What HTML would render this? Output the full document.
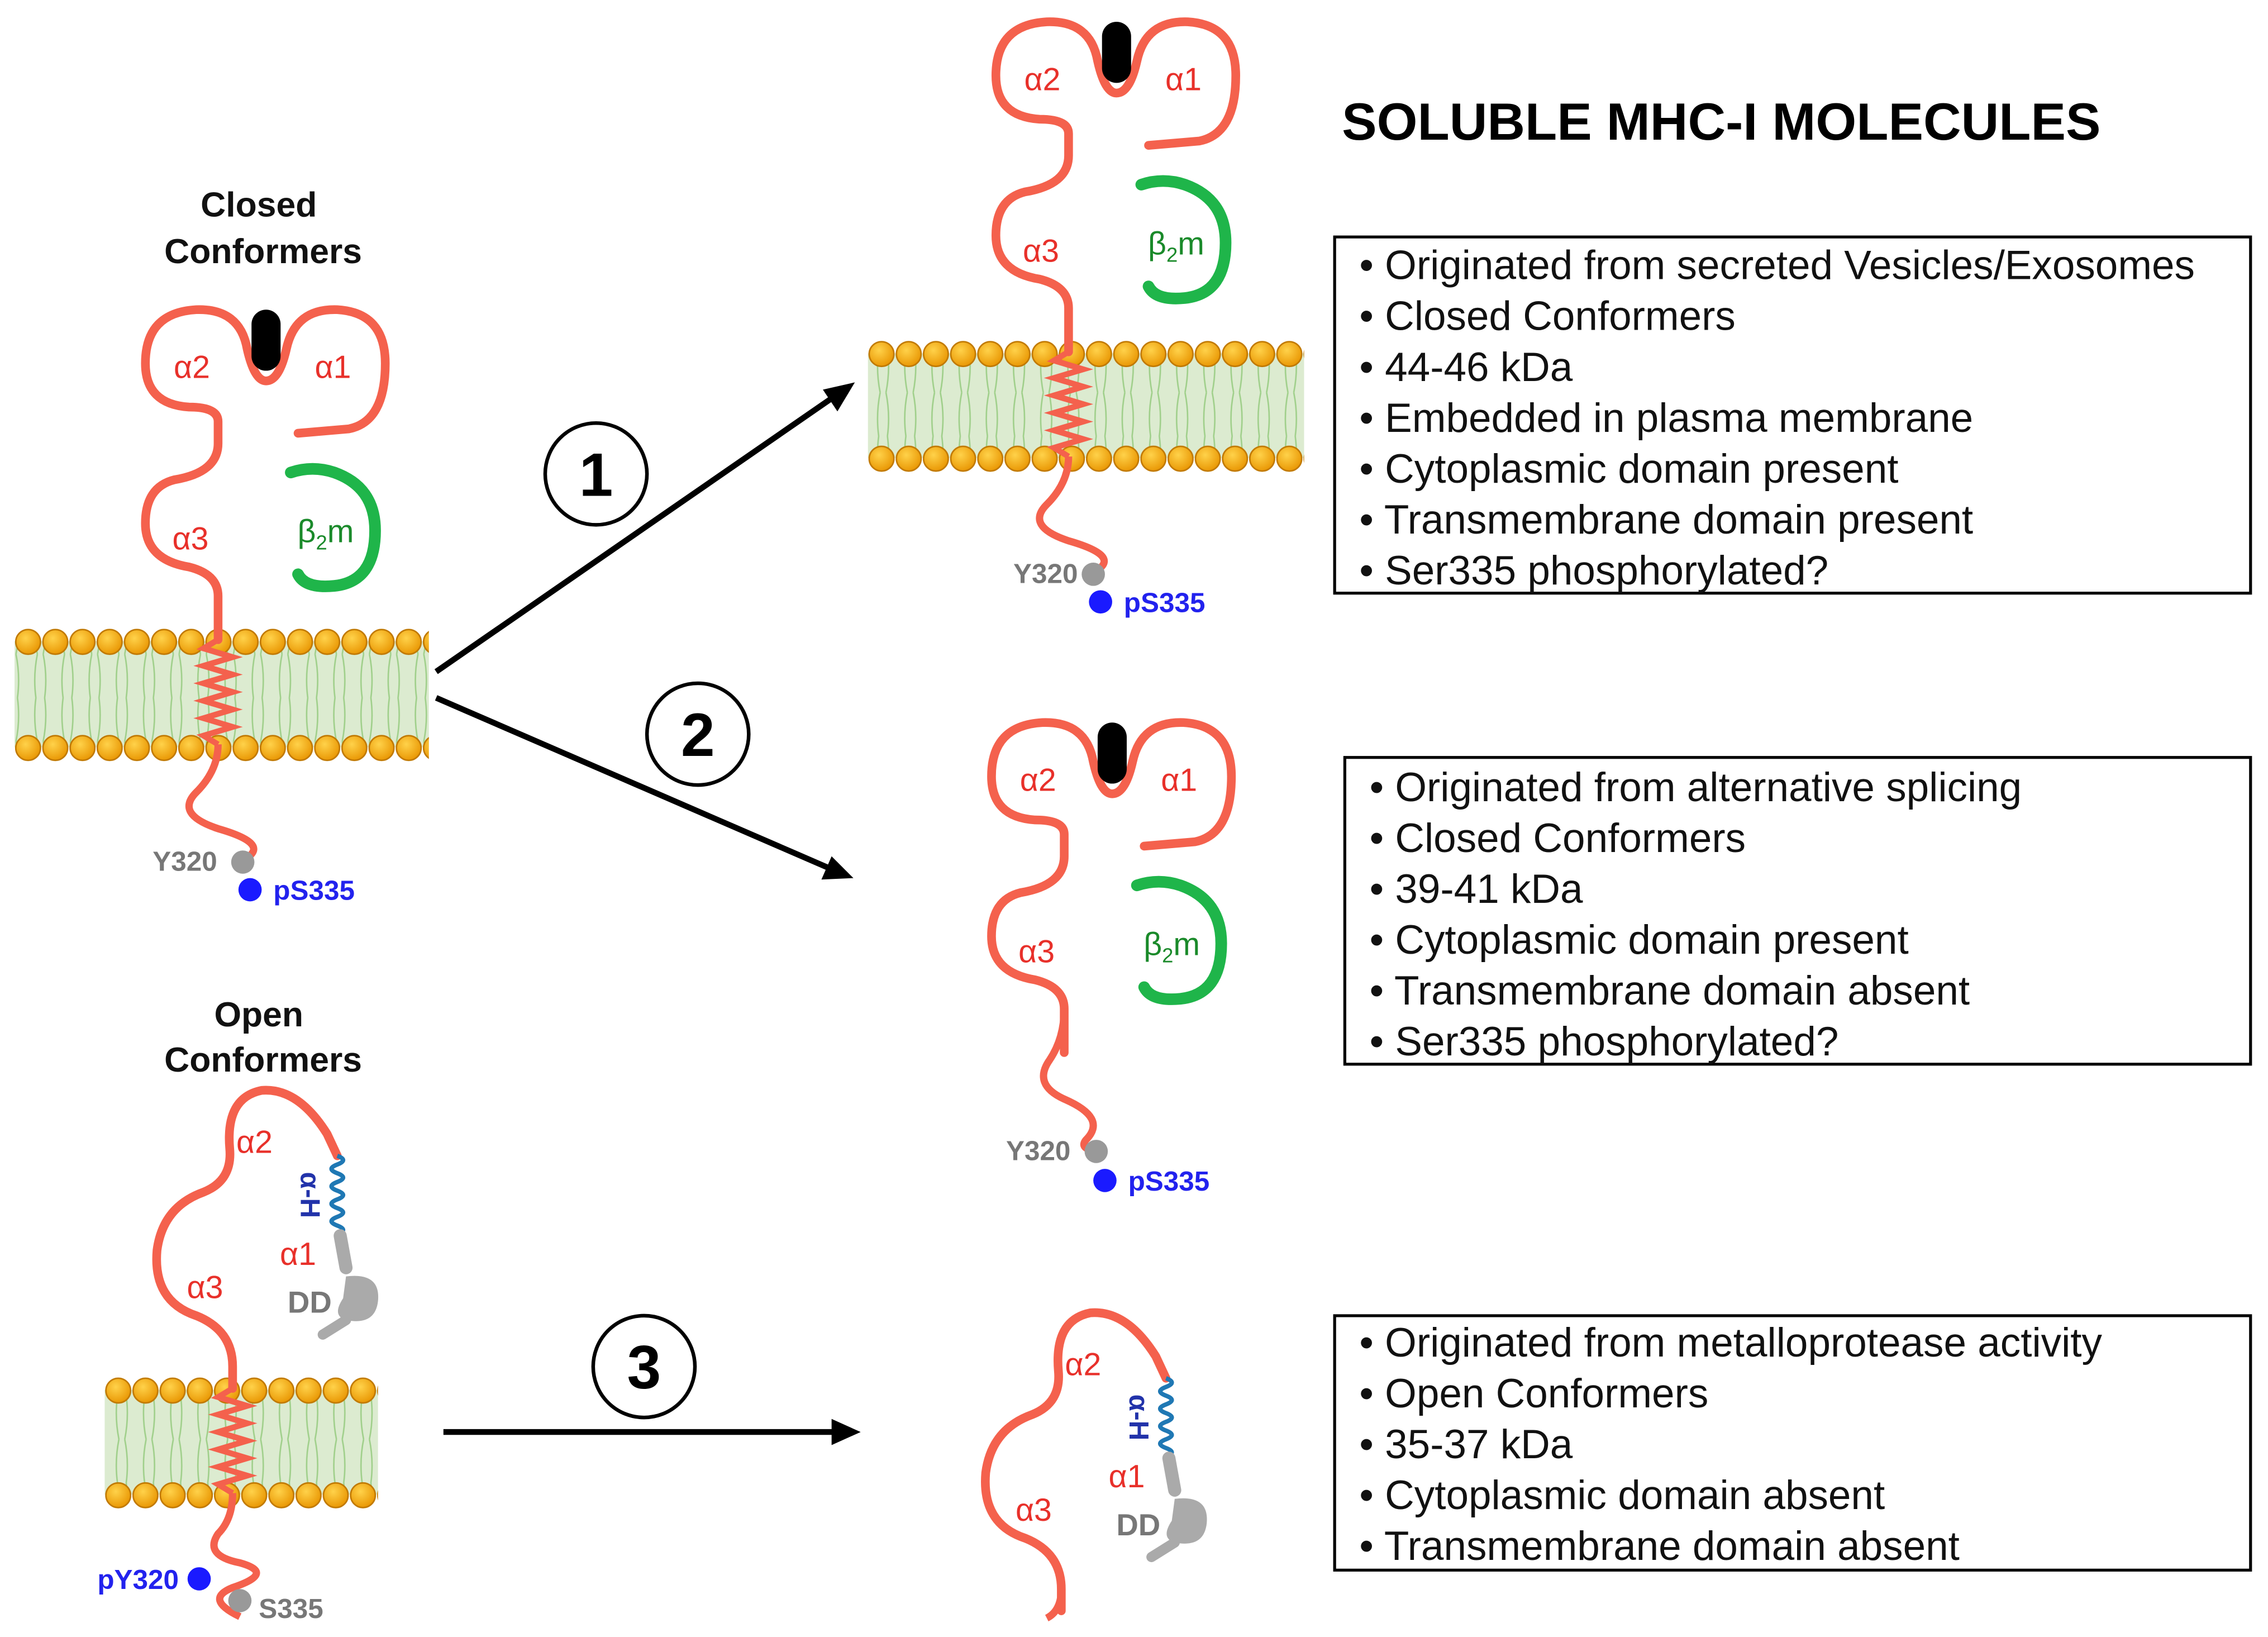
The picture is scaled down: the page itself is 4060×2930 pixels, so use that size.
<!DOCTYPE html>
<html><head><meta charset="utf-8"><style>
html,body{margin:0;padding:0;background:#fff;}
svg{display:block;}
text{font-family:"Liberation Sans",sans-serif;}
</style></head><body>
<svg width="4060" height="2930" viewBox="0 0 1560 1126" preserveAspectRatio="none" xmlns="http://www.w3.org/2000/svg">
<defs>
<radialGradient id="hg" cx="0.4" cy="0.35" r="0.7"><stop offset="0" stop-color="#ffd24a"/><stop offset="1" stop-color="#e89400"/></radialGradient>
<pattern id="h1" x="10" y="432" width="18.7" height="20" patternUnits="userSpaceOnUse"><circle cx="9.35" cy="9.5" r="8.5" fill="url(#hg)" stroke="#c07800" stroke-width="1"/></pattern>
<pattern id="h2" x="10" y="505" width="18.7" height="20" patternUnits="userSpaceOnUse"><circle cx="9.35" cy="9.5" r="8.5" fill="url(#hg)" stroke="#c07800" stroke-width="1"/></pattern>
<pattern id="h3" x="597" y="234" width="18.7" height="20" patternUnits="userSpaceOnUse"><circle cx="9.35" cy="9.5" r="8.5" fill="url(#hg)" stroke="#c07800" stroke-width="1"/></pattern>
<pattern id="h4" x="597" y="306" width="18.7" height="20" patternUnits="userSpaceOnUse"><circle cx="9.35" cy="9.5" r="8.5" fill="url(#hg)" stroke="#c07800" stroke-width="1"/></pattern>
<pattern id="h5" x="72" y="947" width="18.7" height="20" patternUnits="userSpaceOnUse"><circle cx="9.35" cy="9.5" r="8.5" fill="url(#hg)" stroke="#c07800" stroke-width="1"/></pattern>
<pattern id="h6" x="72" y="1019" width="18.7" height="20" patternUnits="userSpaceOnUse"><circle cx="9.35" cy="9.5" r="8.5" fill="url(#hg)" stroke="#c07800" stroke-width="1"/></pattern>
<pattern id="tails" width="18.7" height="60" patternUnits="userSpaceOnUse"><path d="M6,0 Q4,15 7,30 M12,0 Q14,15 11,30 M6,60 Q4,45 7,30 M12,60 Q14,45 11,30" stroke="#9fcf8a" stroke-width="1" fill="none"/></pattern>
<g id="upper">
<path d="M150,440 L150,410 Q150,395 130,390 Q100,385 100,360 Q100,335 120,330 Q150,325 150,305 L150,290 Q150,280 130,280 Q100,278 100,250 Q100,215 135,213 Q165,212 170,240 Q175,262 183,262 Q192,262 197,240 Q203,212 232,213 Q265,215 265,250 Q265,290 240,295 L205,298" fill="none" stroke="#f4614d" stroke-width="6" stroke-linecap="round"/>
<rect x="173" y="213" width="20" height="42" rx="10" fill="#000"/>
<path d="M200,325 Q215,320 230,325 Q258,335 258,365 Q258,400 230,403 Q210,405 205,395" fill="none" stroke="#1fb54a" stroke-width="8" stroke-linecap="round"/>
<text x="132" y="260" font-size="22" fill="#e8302a" text-anchor="middle">α2</text>
<text x="229" y="260" font-size="22" fill="#e8302a" text-anchor="middle">α1</text>
<text x="131" y="378" font-size="22" fill="#e8302a" text-anchor="middle">α3</text>
<text x="224" y="373" font-size="22" fill="#1a8a2a" text-anchor="middle">β<tspan font-size="14" dy="5">2</tspan><tspan dy="-5">m</tspan></text>
</g>
</defs>

<text x="923" y="96" font-size="36" font-weight="bold" fill="#000">SOLUBLE MHC-I MOLECULES</text>

<rect x="918" y="163" width="630" height="245" fill="none" stroke="#000" stroke-width="2"/>
<g font-size="28" fill="#111">
<text x="935" y="192">• Originated from secreted Vesicles/Exosomes</text>
<text x="935" y="227">• Closed Conformers</text>
<text x="935" y="262">• 44-46 kDa</text>
<text x="935" y="297">• Embedded in plasma membrane</text>
<text x="935" y="332">• Cytoplasmic domain present</text>
<text x="935" y="367">• Transmembrane domain present</text>
<text x="935" y="402">• Ser335 phosphorylated?</text>
</g>
<rect x="925" y="521" width="623" height="211" fill="none" stroke="#000" stroke-width="2"/>
<g font-size="28" fill="#111">
<text x="942" y="551">• Originated from alternative splicing</text>
<text x="942" y="586">• Closed Conformers</text>
<text x="942" y="621">• 39-41 kDa</text>
<text x="942" y="656">• Cytoplasmic domain present</text>
<text x="942" y="691">• Transmembrane domain absent</text>
<text x="942" y="726">• Ser335 phosphorylated?</text>
</g>
<rect x="918" y="905" width="630" height="175" fill="none" stroke="#000" stroke-width="2"/>
<g font-size="28" fill="#111">
<text x="935" y="933">• Originated from metalloprotease activity</text>
<text x="935" y="968">• Open Conformers</text>
<text x="935" y="1003">• 35-37 kDa</text>
<text x="935" y="1038">• Cytoplasmic domain absent</text>
<text x="935" y="1073">• Transmembrane domain absent</text>
</g>

<g stroke="#000" stroke-width="4" fill="#000">
<line x1="300" y1="462" x2="572" y2="274"/>
<polygon points="588,263 566,268 576,283" stroke="none"/>
<line x1="300" y1="480" x2="570" y2="597"/>
<polygon points="587,604 572,589 565,605" stroke="none"/>
<line x1="305" y1="985" x2="575" y2="985"/>
<polygon points="592,985 572,976 572,994" stroke="none"/>
</g>
<g fill="#fff" stroke="#000" stroke-width="2.5">
<circle cx="410" cy="326" r="35"/><circle cx="480" cy="505" r="35"/><circle cx="443" cy="940" r="35"/>
</g>
<g font-size="42" font-weight="bold" text-anchor="middle">
<text x="410" y="341">1</text><text x="480" y="520">2</text><text x="443" y="955">3</text>
</g>

<g font-size="24" font-weight="bold" text-anchor="middle" fill="#111">
<text x="178" y="149">Closed</text><text x="181" y="181">Conformers</text>
<text x="178" y="706">Open</text><text x="181" y="737">Conformers</text>
</g>

<g>
<rect x="10" y="441" width="285" height="73" fill="#dcebd0"/><rect x="10" y="441" width="285" height="73" fill="url(#tails)"/>
<rect x="10" y="432" width="285" height="19" fill="url(#h1)"/>
<rect x="10" y="505" width="285" height="19" fill="url(#h2)"/>
<rect x="597" y="243" width="300" height="72" fill="#dcebd0"/><rect x="597" y="243" width="300" height="72" fill="url(#tails)"/>
<rect x="597" y="234" width="300" height="19" fill="url(#h3)"/>
<rect x="597" y="306" width="300" height="19" fill="url(#h4)"/>
<rect x="72" y="956" width="188" height="72" fill="#dcebd0"/><rect x="72" y="956" width="188" height="72" fill="url(#tails)"/>
<rect x="72" y="947" width="188" height="19" fill="url(#h5)"/>
<rect x="72" y="1019" width="188" height="19" fill="url(#h6)"/>
</g>

<g>
<use href="#upper"/>
<polyline points="150,440 140,446 160,452 140,458 160,464 140,470 160,476 140,482 160,488 140,494 160,500 140,506 150,512" fill="none" stroke="#f4614d" stroke-width="4"/>
<path d="M150,512 Q150,530 135,545 Q120,560 150,570 Q185,580 170,590" fill="none" stroke="#f4614d" stroke-width="5"/>
<circle cx="167" cy="593" r="8" fill="#999"/>
<circle cx="172" cy="612" r="8" fill="#1a1aff"/>
<text x="105" y="599" font-size="19" font-weight="bold" fill="#777">Y320</text>
<text x="188" y="619" font-size="19" font-weight="bold" fill="#2222ee">pS335</text>
</g>

<g transform="translate(585,-198)">
<use href="#upper"/>
<polyline points="150,440 140,446 160,452 140,458 160,464 140,470 160,476 140,482 160,488 140,494 160,500 140,506 150,512" fill="none" stroke="#f4614d" stroke-width="4"/>
<path d="M150,512 Q150,530 135,545 Q120,560 150,570 Q185,580 170,590" fill="none" stroke="#f4614d" stroke-width="5"/>
<circle cx="167" cy="593" r="8" fill="#999"/>
<circle cx="172" cy="612" r="8" fill="#1a1aff"/>
<text x="112" y="599" font-size="19" font-weight="bold" fill="#777">Y320</text>
<text x="188" y="619" font-size="19" font-weight="bold" fill="#2222ee">pS335</text>
</g>

<g transform="translate(582,284)">
<use href="#upper"/>
<path d="M150,410 Q150,430 140,445 Q128,462 150,472 Q180,485 165,500 Q160,506 172,508" fill="none" stroke="#f4614d" stroke-width="5"/>
<circle cx="172" cy="508" r="8" fill="#999"/>
<circle cx="178" cy="528" r="8" fill="#1a1aff"/>
<text x="110" y="514" font-size="19" font-weight="bold" fill="#777">Y320</text>
<text x="194" y="535" font-size="19" font-weight="bold" fill="#2222ee">pS335</text>
</g>

<g id="open">
<path d="M160,955 L160,940 Q160,915 135,905 Q105,895 108,860 Q112,830 140,820 Q160,812 158,790 Q155,755 180,750 Q205,748 225,780 L232,795" fill="none" stroke="#f4614d" stroke-width="6" stroke-linecap="round"/>
<path d="M232,795 q8,3 0,6 q-8,3 0,6 q8,3 0,6 q-8,3 0,6 q8,3 0,6 q-8,3 0,6 q8,3 0,6 q-8,3 0,6 q8,3 0,6" fill="none" stroke="#1f78b4" stroke-width="3"/>
<path d="M234,850 L238,872" stroke="#aaa" stroke-width="9" stroke-linecap="round"/>
<path d="M238,878 Q262,875 260,895 Q258,912 238,908 Q228,905 236,893 Z" fill="#aaa"/>
<path d="M238,908 L222,918" stroke="#aaa" stroke-width="7" stroke-linecap="round"/>
<text x="175" y="793" font-size="22" fill="#e8302a" text-anchor="middle">α2</text>
<text x="205" y="870" font-size="22" fill="#e8302a" text-anchor="middle">α1</text>
<text x="141" y="893" font-size="22" fill="#e8302a" text-anchor="middle">α3</text>
<text x="213" y="903" font-size="21" font-weight="bold" fill="#777" text-anchor="middle">DD</text>
<text x="0" y="0" font-size="19" font-weight="bold" fill="#2233aa" text-anchor="middle" transform="translate(207,822) rotate(90)">α-H</text>
</g>
<polyline points="160,955 150,961 170,967 150,973 170,979 150,985 170,991 150,997 170,1003 150,1009 170,1015 150,1021 160,1027" fill="none" stroke="#f4614d" stroke-width="4"/>
<path d="M160,1027 Q160,1045 150,1055 Q140,1070 165,1075 Q190,1082 160,1092 Q140,1100 165,1112" fill="none" stroke="#f4614d" stroke-width="5"/>
<circle cx="137" cy="1086" r="8" fill="#1a1aff"/>
<circle cx="165" cy="1101" r="8" fill="#999"/>
<text x="67" y="1093" font-size="19" font-weight="bold" fill="#2222ee">pY320</text>
<text x="178" y="1113" font-size="19" font-weight="bold" fill="#777">S335</text>

<g transform="translate(570,153)">
<use href="#open"/>
<path d="M160,940 Q160,955 150,960" fill="none" stroke="#f4614d" stroke-width="5"/>
</g>
</svg>
</body></html>
